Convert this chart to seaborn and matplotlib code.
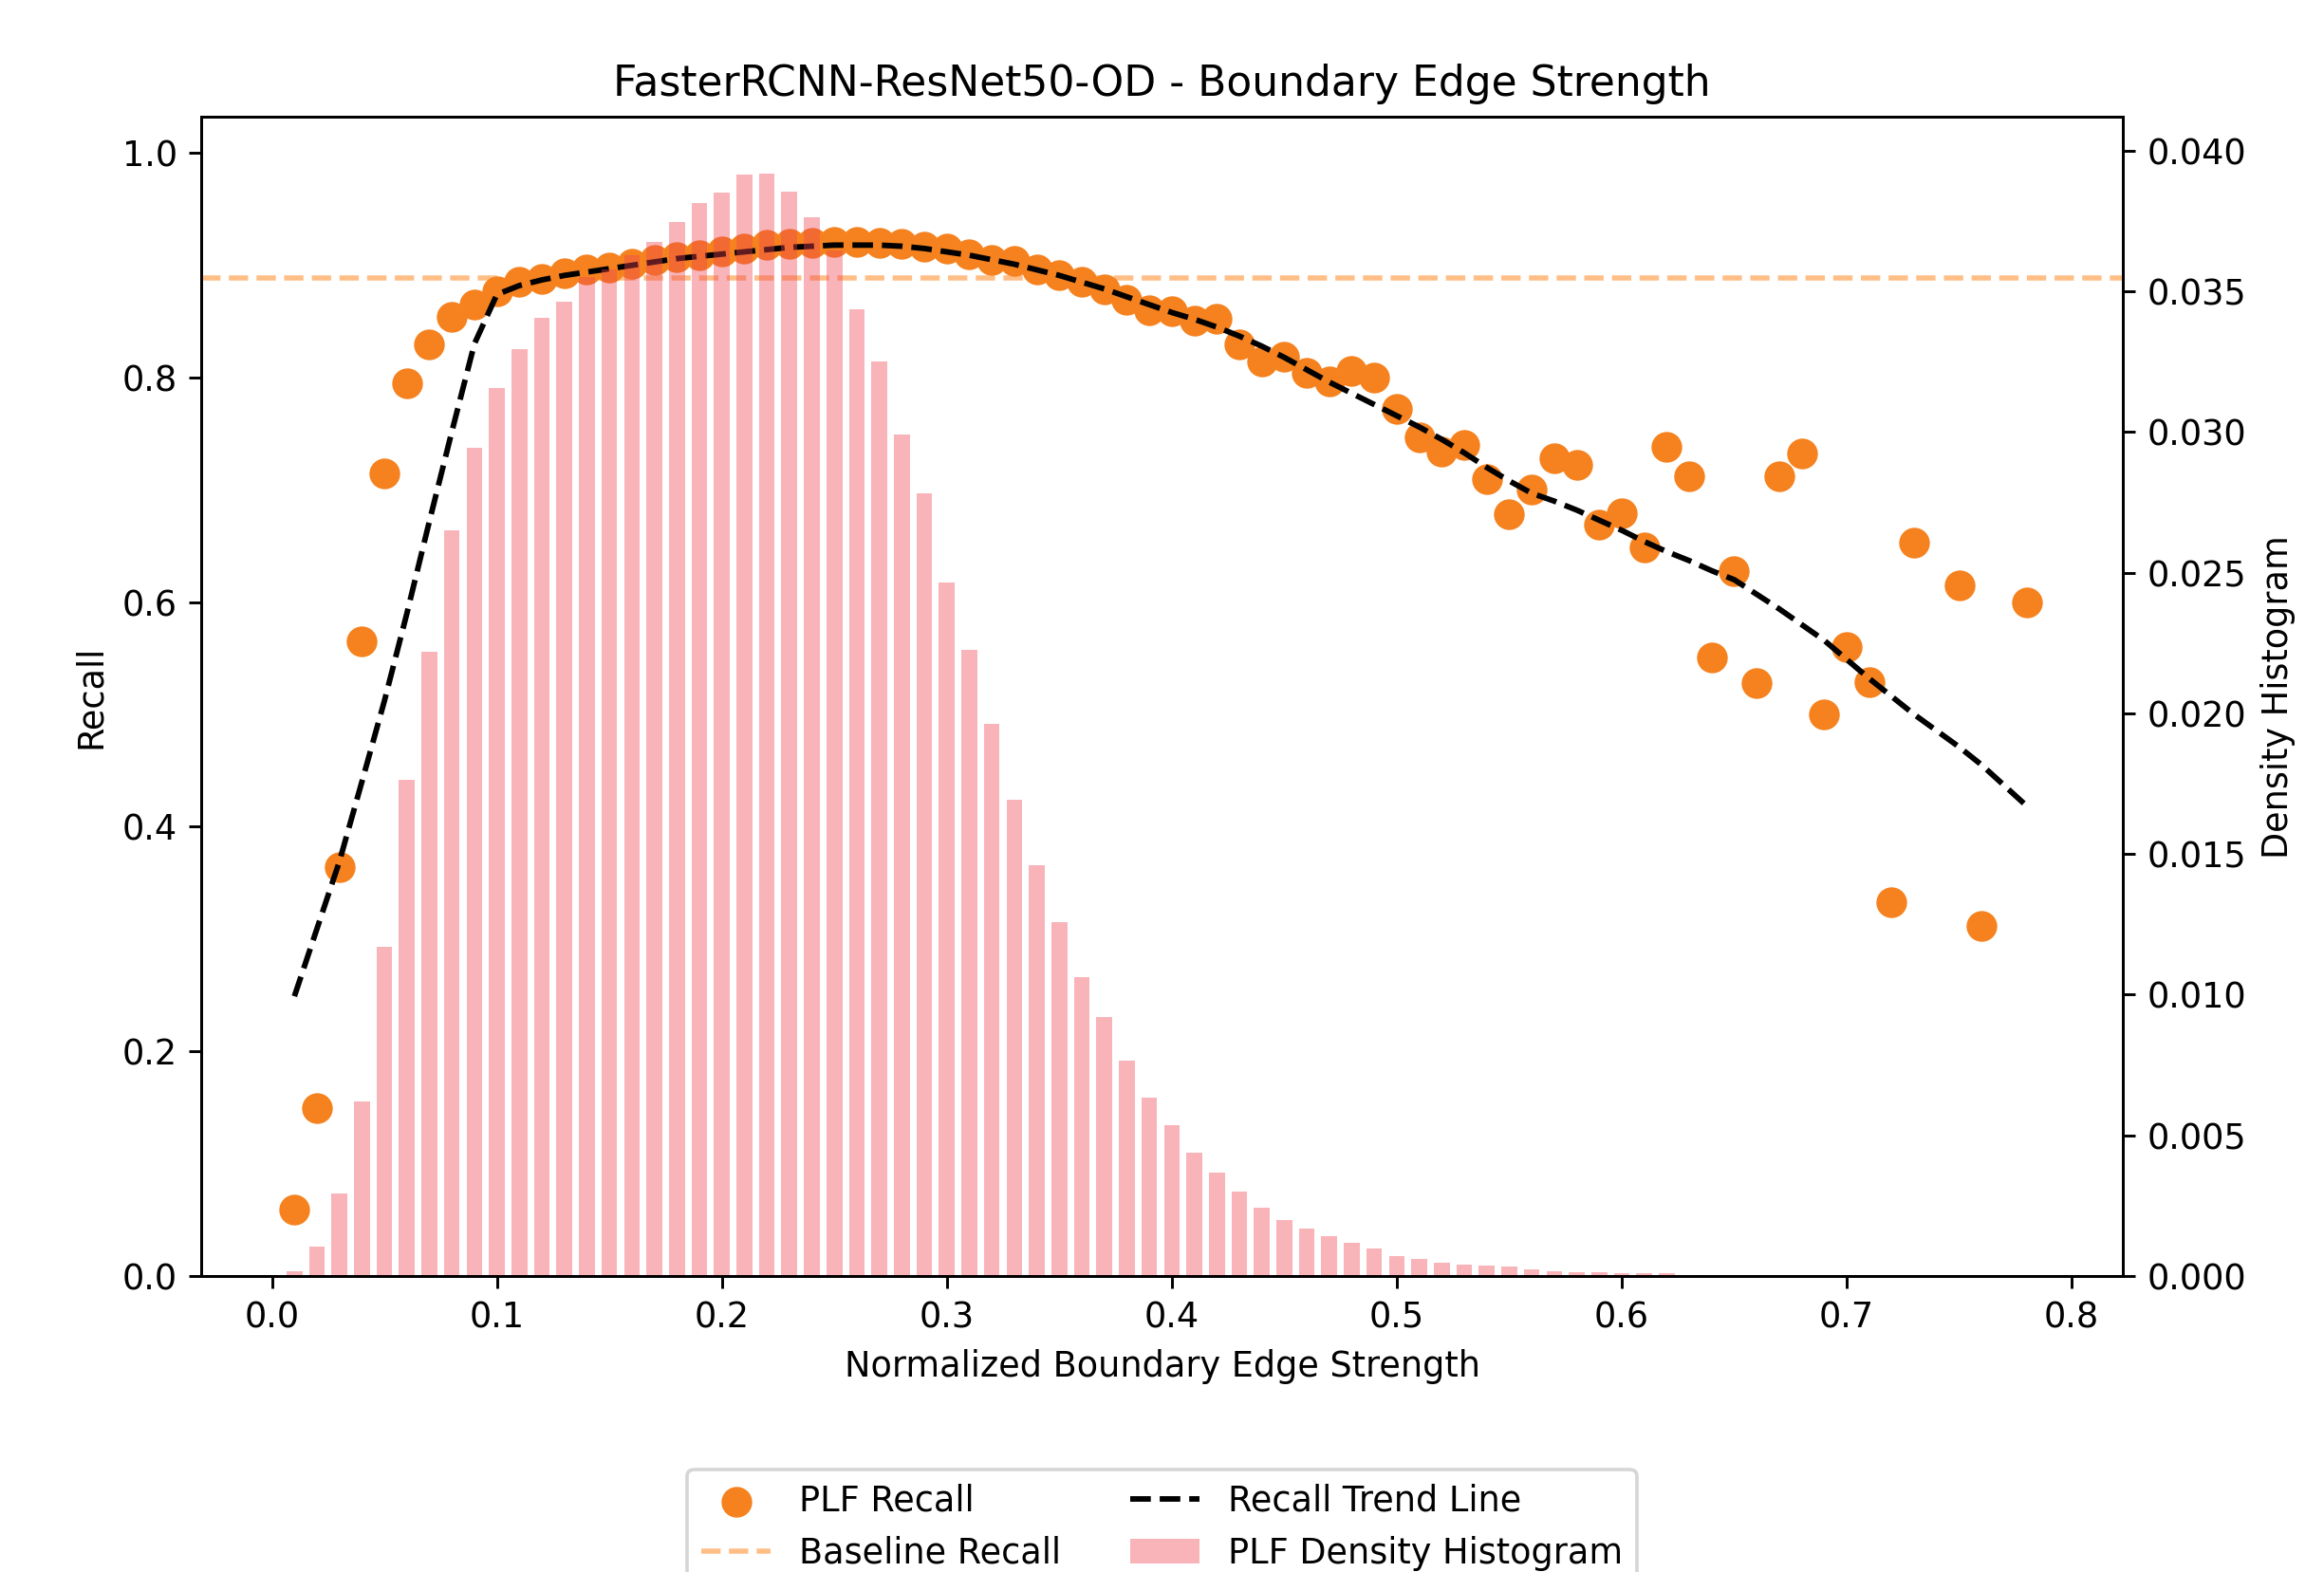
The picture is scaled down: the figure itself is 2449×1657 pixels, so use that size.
import numpy as np
import pandas as pd
import seaborn as sns
import matplotlib.pyplot as plt

# recall per normalized boundary edge strength bin
strength = [0.01, 0.02, 0.03, 0.04, 0.05, 0.06, 0.07, 0.08, 0.09, 0.10,
            0.11, 0.12, 0.13, 0.14, 0.15, 0.16, 0.17, 0.18, 0.19, 0.20,
            0.21, 0.22, 0.23, 0.24, 0.25, 0.26, 0.27, 0.28, 0.29, 0.30,
            0.31, 0.32, 0.33, 0.34, 0.35, 0.36, 0.37, 0.38, 0.39, 0.40,
            0.41, 0.42, 0.43, 0.44, 0.45, 0.46, 0.47, 0.48, 0.49, 0.50,
            0.51, 0.52, 0.53, 0.54, 0.55, 0.56, 0.57, 0.58, 0.59, 0.60,
            0.61, 0.62, 0.63, 0.64, 0.65, 0.66, 0.67, 0.68, 0.69, 0.70,
            0.71, 0.72, 0.73, 0.75, 0.76, 0.78]
plf_recall = [0.059, 0.149, 0.364, 0.565, 0.715, 0.795, 0.830, 0.854, 0.865, 0.877,
              0.885, 0.888, 0.893, 0.896, 0.898, 0.901, 0.905, 0.907, 0.909, 0.912,
              0.915, 0.918, 0.919, 0.920, 0.921, 0.921, 0.920, 0.919, 0.917, 0.915,
              0.910, 0.905, 0.904, 0.896, 0.891, 0.885, 0.879, 0.869, 0.860, 0.859,
              0.851, 0.852, 0.830, 0.814, 0.819, 0.804, 0.797, 0.806, 0.800, 0.772,
              0.747, 0.734, 0.740, 0.710, 0.678, 0.700, 0.728, 0.722, 0.669, 0.679,
              0.649, 0.738, 0.712, 0.551, 0.628, 0.528, 0.712, 0.732, 0.500, 0.560,
              0.529, 0.333, 0.653, 0.615, 0.312, 0.600]
trend_recall = [0.249, 0.309, 0.369, 0.440, 0.512, 0.590, 0.672, 0.752, 0.830, 0.874,
                0.882, 0.887, 0.891, 0.894, 0.897, 0.900, 0.903, 0.906, 0.908, 0.910,
                0.912, 0.914, 0.916, 0.917, 0.918, 0.918, 0.918, 0.917, 0.915, 0.912,
                0.909, 0.905, 0.901, 0.896, 0.891, 0.885, 0.879, 0.872, 0.865, 0.858,
                0.852, 0.845, 0.837, 0.828, 0.818, 0.807, 0.796, 0.786, 0.776, 0.766,
                0.756, 0.745, 0.733, 0.720, 0.708, 0.697, 0.690, 0.682, 0.673, 0.664,
                0.654, 0.645, 0.637, 0.628, 0.620, 0.607, 0.594, 0.580, 0.566, 0.549,
                0.532, 0.516, 0.500, 0.471, 0.455, 0.4185]
baseline_recall = 0.889

# density histogram of the PLF samples
hist_centers = [0.01, 0.02, 0.03, 0.04, 0.05, 0.06, 0.07, 0.08, 0.09, 0.10,
                0.11, 0.12, 0.13, 0.14, 0.15, 0.16, 0.17, 0.18, 0.19, 0.20,
                0.21, 0.22, 0.23, 0.24, 0.25, 0.26, 0.27, 0.28, 0.29, 0.30,
                0.31, 0.32, 0.33, 0.34, 0.35, 0.36, 0.37, 0.38, 0.39, 0.40,
                0.41, 0.42, 0.43, 0.44, 0.45, 0.46, 0.47, 0.48, 0.49, 0.50,
                0.51, 0.52, 0.53, 0.54, 0.55, 0.56, 0.57, 0.58, 0.59, 0.60,
                0.61, 0.62, 0.63, 0.64]
hist_density = [0.00017, 0.00103, 0.00294, 0.00621, 0.01169, 0.01764, 0.0222, 0.02652, 0.02945, 0.03158,
                0.03295, 0.03408, 0.03464, 0.0355, 0.0358, 0.0363, 0.03676, 0.03747, 0.03816, 0.03852,
                0.03917, 0.0392, 0.03855, 0.03765, 0.03645, 0.03438, 0.03252, 0.0299, 0.02784, 0.02465,
                0.02227, 0.01961, 0.01693, 0.0146, 0.01258, 0.01062, 0.00921, 0.00766, 0.00634, 0.00537,
                0.00437, 0.00366, 0.00298, 0.00242, 0.0020, 0.00168, 0.0014, 0.00116, 0.00096, 0.00071,
                0.00059, 0.00048, 0.0004, 0.00036, 0.00032, 0.00022, 0.000165, 0.000124, 0.000138, 0.00011,
                0.00011, 0.00008, 0.00004, 0.00004]

df = pd.DataFrame({'strength': strength, 'recall': plf_recall, 'trend': trend_recall})
hist_df = pd.DataFrame({'center': hist_centers, 'density': hist_density})

fig = plt.figure(figsize=(2449 / 264, 1657 / 264), dpi=264)
ax = fig.add_axes([0.0867, 0.1884, 0.8266, 0.7371])

ax.axhline(baseline_recall, color='tab:orange', alpha=0.5, linestyle='--', linewidth=1.5,
           label='Baseline Recall', zorder=1)
sns.scatterplot(x='strength', y='recall', data=df, ax=ax, color='#f5821f', s=78,
                linewidth=0, label='PLF Recall', zorder=2)
sns.lineplot(x='strength', y='trend', data=df, ax=ax, color='black', linestyle='--',
             linewidth=1.6, label='Recall Trend Line', zorder=3)
ax.set_xlim(-0.0313, 0.8226)
ax.set_ylim(0, 1.032)
ax.set_xlabel('Normalized Boundary Edge Strength')
ax.set_ylabel('Recall')
ax.set_title('FasterRCNN-ResNet50-OD - Boundary Edge Strength')

ax2 = ax.twinx()
sns.histplot(x='center', weights='density', data=hist_df, binwidth=0.01,
             binrange=(0.005, 0.645), shrink=0.7, color='#ee4450', alpha=0.4,
             linewidth=0, ax=ax2, label='PLF Density Histogram')
ax2.set_ylim(0, 0.0412)
ax2.set_ylabel('Density Histogram')
ax2.set_xlim(-0.0313, 0.8226)

h1, l1 = ax.get_legend_handles_labels()
h2, l2 = ax2.get_legend_handles_labels()
lookup = dict(zip(l1 + l2, h1 + h2))
order = ['PLF Recall', 'Baseline Recall', 'Recall Trend Line', 'PLF Density Histogram']
if ax2.get_legend() is not None:
    ax2.get_legend().remove()
ax.legend([lookup[k] for k in order], order, loc='upper center',
          bbox_to_anchor=(0.5, -0.152), ncol=2)

fig.savefig('out.png', dpi=264)
